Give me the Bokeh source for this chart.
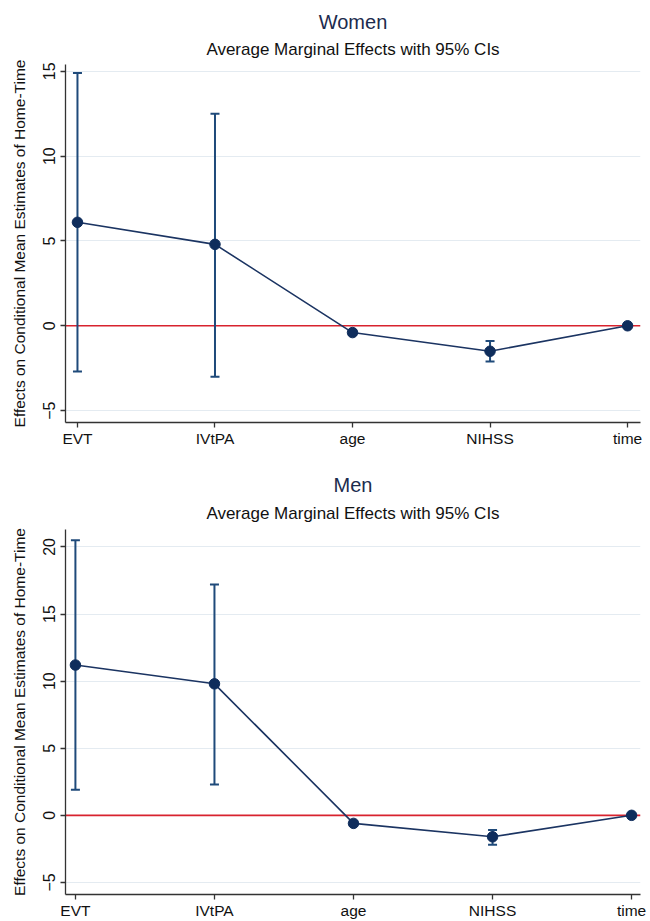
import math
from bokeh.plotting import figure
from bokeh.models import (ColumnDataSource, Whisker, TeeHead, Span, Title,
                          FixedTicker, Range1d)
from bokeh.layouts import column
from bokeh.embed import file_html
from bokeh.resources import INLINE

categories = ["EVT", "IVtPA", "age", "NIHSS", "time"]

women_est = [6.1, 4.8, -0.4, -1.5, 0.0]
women_lo = [-2.7, -3.0, -0.55, -2.1, -0.05]
women_hi = [14.9, 12.5, -0.25, -0.9, 0.05]
women_ticks = [-5, 0, 5, 10, 15]

men_est = [11.2, 9.8, -0.6, -1.6, 0.0]
men_lo = [1.9, 2.3, -0.75, -2.2, -0.05]
men_hi = [20.5, 17.2, -0.45, -1.1, 0.05]
men_ticks = [-5, 0, 5, 10, 15, 20]

FONT = "Liberation Sans"
NAVY = "#0f2d5c"
BAR = "#1f4a7a"
RED = "#d8232e"
GRID = "#e4ebf1"
YLABEL = "Effects on Conditional Mean Estimates of Home-Time"


def make_panel(name, est, lo, hi, ticks, yr, xr, height, borders, sub_standoff):
    xs = list(range(len(categories)))
    src = ColumnDataSource(dict(x=xs, y=est, lower=lo, upper=hi))
    p = figure(width=650, height=height, output_backend="svg",
               toolbar_location=None, x_range=Range1d(*xr),
               y_range=Range1d(*yr),
               min_border_left=borders[0], min_border_right=borders[1],
               min_border_top=borders[2], min_border_bottom=borders[3])
    p.outline_line_color = None
    p.background_fill_color = "white"
    p.border_fill_color = "white"

    sub = Title(text="Average Marginal Effects with 95% CIs", align="center",
                text_font=FONT, text_font_size="17px",
                text_font_style="normal", text_color="#111111",
                standoff=sub_standoff)
    p.add_layout(sub, "above")
    main = Title(text=name, align="center", text_font=FONT,
                 text_font_size="20px", text_font_style="normal",
                 text_color="#1c2b4e", standoff=0)
    p.add_layout(main, "above")

    zero = Span(location=0, dimension="width", line_color=RED,
                line_width=1.6, level="underlay")
    p.add_layout(zero)

    w = Whisker(base="x", lower="lower", upper="upper", source=src,
                line_color=BAR, line_width=2, level="underlay",
                upper_head=TeeHead(size=9, line_color=BAR, line_width=2),
                lower_head=TeeHead(size=9, line_color=BAR, line_width=2))
    p.add_layout(w)

    p.line("x", "y", source=src, line_color="#1b3462", line_width=1.6)
    p.scatter("x", "y", source=src, size=10.5, fill_color=NAVY,
              line_color=NAVY)

    p.xgrid.grid_line_color = None
    p.ygrid.grid_line_color = GRID
    p.ygrid.grid_line_width = 1.2

    p.xaxis.ticker = FixedTicker(ticks=xs)
    p.xaxis.major_label_overrides = {i: c for i, c in enumerate(categories)}
    p.yaxis.ticker = FixedTicker(ticks=ticks)
    p.yaxis.major_label_overrides = {t: (str(t) if t >= 0 else "\u2212" + str(-t)) for t in ticks}
    p.yaxis.major_label_orientation = "parallel"

    for ax in (p.xaxis, p.yaxis):
        ax.axis_line_color = "#333333"
        ax.axis_line_width = 1.3
        ax.major_tick_line_color = "#333333"
        ax.major_tick_line_width = 1.3
        ax.major_tick_out = 5
        ax.major_tick_in = 0
        ax.minor_tick_line_color = None
        ax.major_label_text_font = FONT
        ax.major_label_text_color = "#111111"
    p.xaxis.major_label_text_font_size = "15.5px"
    p.yaxis.major_label_text_font_size = "16px"
    p.xaxis.major_label_standoff = 2
    p.yaxis.major_label_standoff = 5
    p.xaxis.axis_label = None
    p.xaxis.axis_label_standoff = 0

    p.yaxis.axis_label = YLABEL
    p.yaxis.axis_label_text_font = FONT
    p.yaxis.axis_label_text_font_size = "15.5px"
    p.yaxis.axis_label_text_font_style = "normal"
    p.yaxis.axis_label_text_color = "#111111"
    p.yaxis.axis_label_standoff = 13
    return p


p1 = make_panel("Women", women_est, women_lo, women_hi, women_ticks,
                (-5.7, 15.4), (-0.087, 4.094), 460, (64, 10, 64, 38), 11)
p2 = make_panel("Men", men_est, men_lo, men_hi, men_ticks,
                (-5.9, 21.3), (-0.0713, 4.064), 461, (65, 5, 69, 26), 13)

layout = column(p1, p2, spacing=0)
open("out.html", "w").write(file_html(layout, INLINE))
